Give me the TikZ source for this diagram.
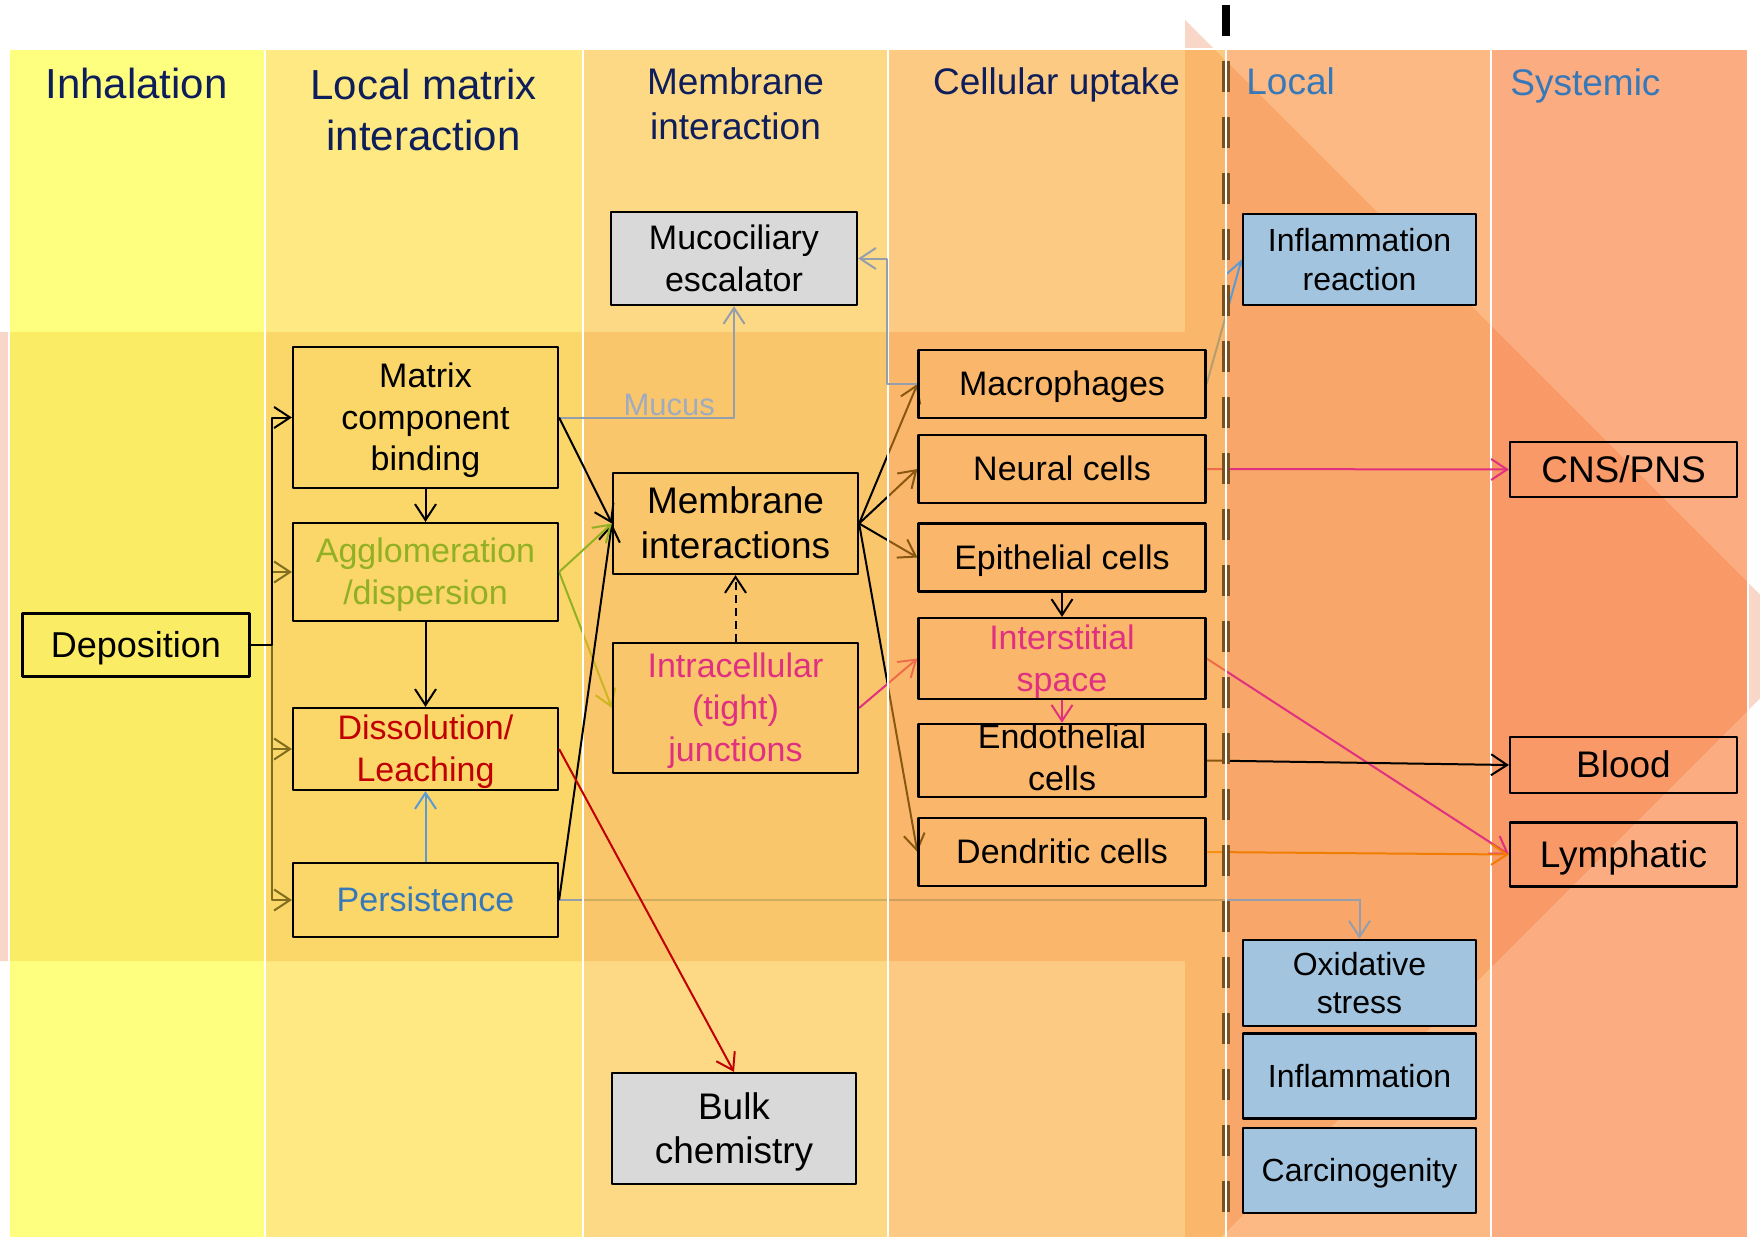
\documentclass[tikz,border=0pt]{standalone}
\usepackage{fontspec}
\setmainfont{Liberation Sans}
\usetikzlibrary{arrows.meta}

\pgfdeclarelayer{back}
\pgfdeclarelayer{colsA}
\pgfdeclarelayer{linesA}
\pgfdeclarelayer{colsB}
\pgfdeclarelayer{linesB}
\pgfdeclarelayer{colsC}
\pgfsetlayers{back,colsA,linesA,colsB,linesB,colsC,main}

\definecolor{arrowpink}{RGB}{248,214,200}
\definecolor{colinh}{RGB}{255,255,22}
\definecolor{colmat}{RGB}{255,215,28}
\definecolor{colmem}{RGB}{253,186,33}
\definecolor{colcel}{RGB}{253,159,31}
\definecolor{colloc}{RGB}{251,128,30}
\definecolor{colsys}{RGB}{248,104,24}
\definecolor{navytext}{RGB}{14,30,90}
\definecolor{steeltext}{RGB}{55,120,185}
\definecolor{aggreen}{RGB}{146,176,36}
\definecolor{dissred}{RGB}{192,0,0}
\definecolor{junctpink}{RGB}{224,48,128}
\definecolor{oliveline}{RGB}{128,110,30}
\definecolor{grayline}{RGB}{148,158,172}
\definecolor{mucusgray}{RGB}{160,172,190}
\definecolor{blueline}{RGB}{91,155,213}
\definecolor{orangeline}{RGB}{240,125,0}
\definecolor{boxgray}{RGB}{217,217,217}
\definecolor{boxblue}{RGB}{163,196,223}
\definecolor{dashbrown}{RGB}{122,80,32}

\newcommand\linestrut{\rule[-.212em]{0pt}{1.117em}}

\tikzset{
  column/.style={fill=#1, fill opacity=.55, draw=white, line width=1pt},
  header/.style={inner sep=0pt, text=navytext, font=\fontsize{21}{25.5}\selectfont},
  subheader/.style={inner sep=0pt, text=navytext, font=\fontsize{18.5}{22.5}\selectfont},
  box/.style={draw=black, line width=1.1pt, inner sep=0pt, align=center,
    font=\fontsize{17}{20.8}\selectfont,
    execute at begin node=\linestrut, execute at end node=\linestrut},
  bigbox/.style={box, font=\fontsize{18.5}{22.5}\selectfont},
  graybox/.style={box, fill=boxgray},
  bluebox/.style={box, fill=boxblue, line width=1.4pt, minimum width=116.5pt,
    font=\fontsize{16}{19.5}\selectfont},
  cellbox/.style={box, minimum width=143.5pt},
  sysbox/.style={bigbox, minimum width=113.5pt},
  conn/.style={->, line width=1pt},
  mucus/.style={text=mucusgray, inner sep=0.5pt, font=\fontsize{15.5}{18}\selectfont}
}

\begin{document}
\begin{tikzpicture}[x=0.5pt, y=-0.5pt, line join=round,
  >={Straight Barb[length=8pt,width=10.5pt]}]
\useasboundingbox (0,0) rectangle (1760,1236);

% big block arrow behind the columns
\begin{pgfonlayer}{back}
\fill[white] (0,0) rectangle (1760,1236);
\fill[arrowpink] (0,332) -- (1185,332) -- (1185,20) -- (1812,646.5)
  -- (1185,1273) -- (1185,961) -- (0,961) -- cycle;
\end{pgfonlayer}

% columns
\begin{pgfonlayer}{colsA}
\foreach \xa/\xb/\c in {8.5/265/colinh, 265/582.5/colmat, 1225.5/1491/colloc, 1491/1747.5/colsys}
  \draw[column=\c] (\xa,49) rectangle (\xb,1240);
\end{pgfonlayer}
\begin{pgfonlayer}{colsB}
\draw[column=colmem] (582.5,49) rectangle (888,1240);
\end{pgfonlayer}
\begin{pgfonlayer}{colsC}
\draw[column=colcel] (888,49) rectangle (1225.5,1240);
\end{pgfonlayer}

% headers
\node[header, anchor=base] (hinh) at (136.5,98) {Inhalation};
\node[header, align=center] (hmat) at (423.5,109.5) {Local matrix\\interaction};
\node[subheader, align=center] (hmem) at (735.5,103.5) {Membrane\\interaction};
\node[subheader, anchor=base] (hcel) at (1056.5,95) {Cellular uptake};
\node[subheader, anchor=base west, text=steeltext] (hloc) at (1246,94.5) {Local};
\node[subheader, anchor=base west, text=steeltext] (hsys) at (1510,95.5) {Systemic};

% boxes
\node[box, minimum width=113.5pt, minimum height=31.5pt, font=\fontsize{18}{22}\selectfont]
  (depo) at (136,645) {Deposition};
\node[box, minimum width=132.5pt, minimum height=70.5pt] (mcb) at (425.5,417.5)
  {\linestrut Matrix\\component\\binding};
\node[box, minimum width=132.5pt, minimum height=49pt, text=aggreen] (aggl) at (425.5,572)
  {\linestrut Agglomeration\\/dispersion};
\node[box, minimum width=132.5pt, minimum height=41pt, text=dissred] (diss) at (425.5,749)
  {\linestrut Dissolution/\\Leaching};
\node[box, minimum width=132.5pt, minimum height=37pt, text=steeltext] (pers) at (425.5,900)
  {Persistence};

\node[graybox, minimum width=123pt, minimum height=46.5pt] (muco) at (734,258.5)
  {\linestrut Mucociliary\\escalator};
\node[bigbox, minimum width=122.5pt, minimum height=50.5pt] (memb) at (735.5,523.5)
  {\linestrut Membrane\\interactions};
\node[box, minimum width=122.5pt, minimum height=65pt, text=junctpink,
  font=\fontsize{17}{21}\selectfont] (intra) at (735.5,708)
  {\linestrut Intracellular\\(tight)\\junctions};
\node[graybox, minimum width=122pt, minimum height=55.5pt, font=\fontsize{18.5}{22}\selectfont]
  (bulk) at (734,1128.5) {\linestrut Bulk\\chemistry};

\foreach \name/\y/\txt in {macro/384/Macrophages, neural/469/Neural cells,
  epith/557.5/Epithelial cells, dendr/852/Dendritic cells}
  \node[cellbox, minimum height=34pt] (\name) at (1062,\y) {\txt};
\node[cellbox, minimum height=40.5pt, text=junctpink] (inters) at (1062,658.5)
  {\linestrut Interstitial\\space};
\node[cellbox, minimum height=34.5pt, execute at begin node={}, execute at end node={}]
  (endoth) at (1062,760.5) {Endothelial\\cells};

\node[sysbox, minimum height=27.5pt] (cns) at (1623.5,469.5) {CNS/PNS};
\node[sysbox, minimum height=28pt] (blood) at (1623.5,765) {Blood};
\node[sysbox, minimum height=32pt] (lymph) at (1623.5,854.5) {Lymphatic};

\node[bluebox, minimum height=45.5pt] (inflr) at (1359.5,259.5)
  {\linestrut Inflammation\\reaction};
\node[bluebox, minimum height=43pt, font=\fontsize{16}{19}\selectfont] (oxid) at (1359.5,983)
  {\linestrut Oxidative\\stress};
\node[bluebox, minimum height=42.5pt] (infl) at (1359.5,1076) {Inflammation};
\node[bluebox, minimum height=42.5pt] (carc) at (1359.5,1170.5) {Carcinogenity};

% connectors seen through the membrane column
\begin{pgfonlayer}{linesA}
\draw[conn, aggreen] (aggl.east) -- (intra.west);
\draw[conn, grayline] (pers.east) -| (oxid.north);
\end{pgfonlayer}

% connectors seen through the cellular uptake column
\begin{pgfonlayer}{linesB}
\foreach \cell in {macro, neural, epith, dendr}
  \draw[conn] (memb.east) -- (\cell.west);
\draw[conn, junctpink] (intra.east) -- (inters.west);
\draw[conn, junctpink] (neural.east) -- (cns.west);
\draw[conn, junctpink] (inters.east) -- (lymph.west);
\draw[conn] (endoth.east) -- (blood.west);
\draw[conn, orangeline] (dendr.east) -- (lymph.west);
\draw[conn, blueline] (macro.east) -- (inflr.west);
\end{pgfonlayer}

% deposition bracket
\foreach \to in {aggl, diss, pers}
  \draw[conn, oliveline] (depo.east) -- ++(21.5,0) |- (\to.west);
\draw[conn] (depo.east) -- ++(21.5,0) |- (mcb.west);

\draw[conn] (mcb.south) -- (aggl.north);
\draw[conn] (aggl.south) -- (diss.north);
\draw[conn, blueline] (pers.north) -- (diss.south);
\draw[conn, grayline] (mcb.east) -| node[pos=0.315, above, mucus] (mucus) {Mucus} (muco.south);
\draw[conn] (mcb.east) -- (memb.west);
\draw[conn] (pers.east) -- (memb.west);
\draw[conn, aggreen] (aggl.east) -- (memb.west);
\draw[conn, dash pattern=on 4pt off 2.5pt] (intra.north) -- (memb.south);
\draw[conn, dissred] (diss.east) -- (bulk.north);
\draw[conn, grayline] (macro.west) -- ++(-30,0) |- (muco.east);
\draw[conn] (epith.south) -- (inters.north);
\draw[conn, junctpink] (inters.south) -- (endoth.north);

% local / systemic border
\draw[dashbrown, line width=4pt, dash pattern=on 15.5pt off 12.5pt] (1225.5,5) -- (1225.5,1236);
\draw[black, line width=4pt] (1225.5,5) -- (1225.5,36);
\draw[white, line width=1pt] (1225.5,49) -- (1225.5,1236);
\end{tikzpicture}
\end{document}
